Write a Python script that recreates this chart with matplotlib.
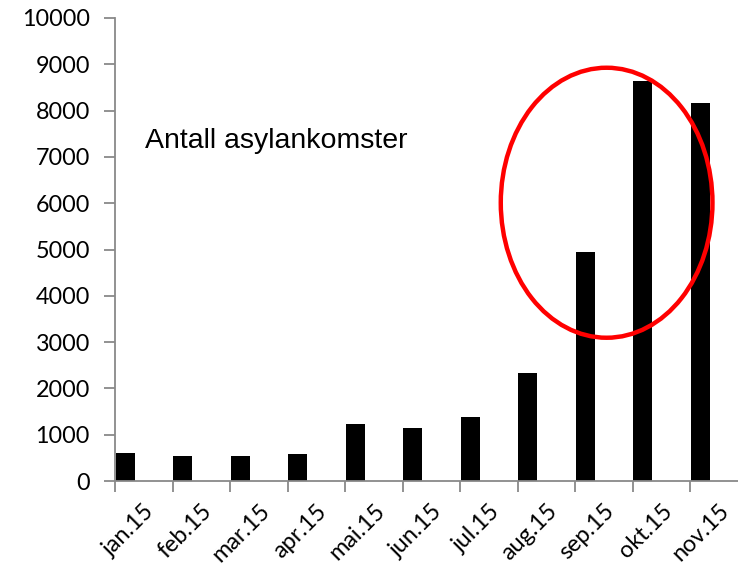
import matplotlib.pyplot as plt
from matplotlib.patches import Ellipse
import numpy as np

months = ['jan.15', 'feb.15', 'mar.15', 'apr.15', 'mai.15', 'jun.15',
          'jul.15', 'aug.15', 'sep.15', 'okt.15', 'nov.15']
arrivals = [610, 540, 545, 590, 1230, 1145, 1390, 2325, 4940, 8645, 8160]
yticks = list(range(0, 10001, 1000))

fig = plt.figure(figsize=(7.38, 5.67), dpi=100)
ax = fig.add_axes([115 / 738, 86 / 567, 632.5 / 738, 463 / 567])

x = np.arange(len(months))
ax.bar(x - 0.49, arrivals, width=0.33, align='edge', color='black')

ax.set_xlim(-0.5, len(months) - 0.5)
ax.set_ylim(0, 10000)

grey = '#898989'
for side in ['top', 'right']:
    ax.spines[side].set_visible(False)
for side in ['left', 'bottom']:
    ax.spines[side].set_color(grey)
    ax.spines[side].set_linewidth(1.3)

ax.set_yticks(yticks)
ax.set_yticklabels([str(v) for v in yticks], fontsize=16.8, family='Lato')
ax.tick_params(axis='y', length=8, width=1.3, color=grey, pad=10)

# boundary ticks (Excel style), labels at category centers
ax.set_xticks(np.arange(len(months) + 1) - 0.5)
ax.set_xticklabels([])
ax.tick_params(axis='x', which='major', length=8, width=1.3, color=grey)
ax.set_xticks(x, minor=True)
ax.set_xticklabels(months, minor=True, rotation=45, ha='right',
                   rotation_mode='anchor', fontsize=16.8, family='Lato')
ax.tick_params(axis='x', which='minor', length=0, pad=14)

ax.text(0.02, 7350, 'Antall asylankomster', fontsize=20.5,
        family='Liberation Sans', va='center', ha='left')

ell = Ellipse((8.05, 6010), width=211.7 / 57.5, height=270 * 10000 / 463,
              fill=False, edgecolor='#ff0000', linewidth=3.2, zorder=5,
              clip_on=False)
ax.add_patch(ell)

fig.savefig('out.png', dpi=100)
